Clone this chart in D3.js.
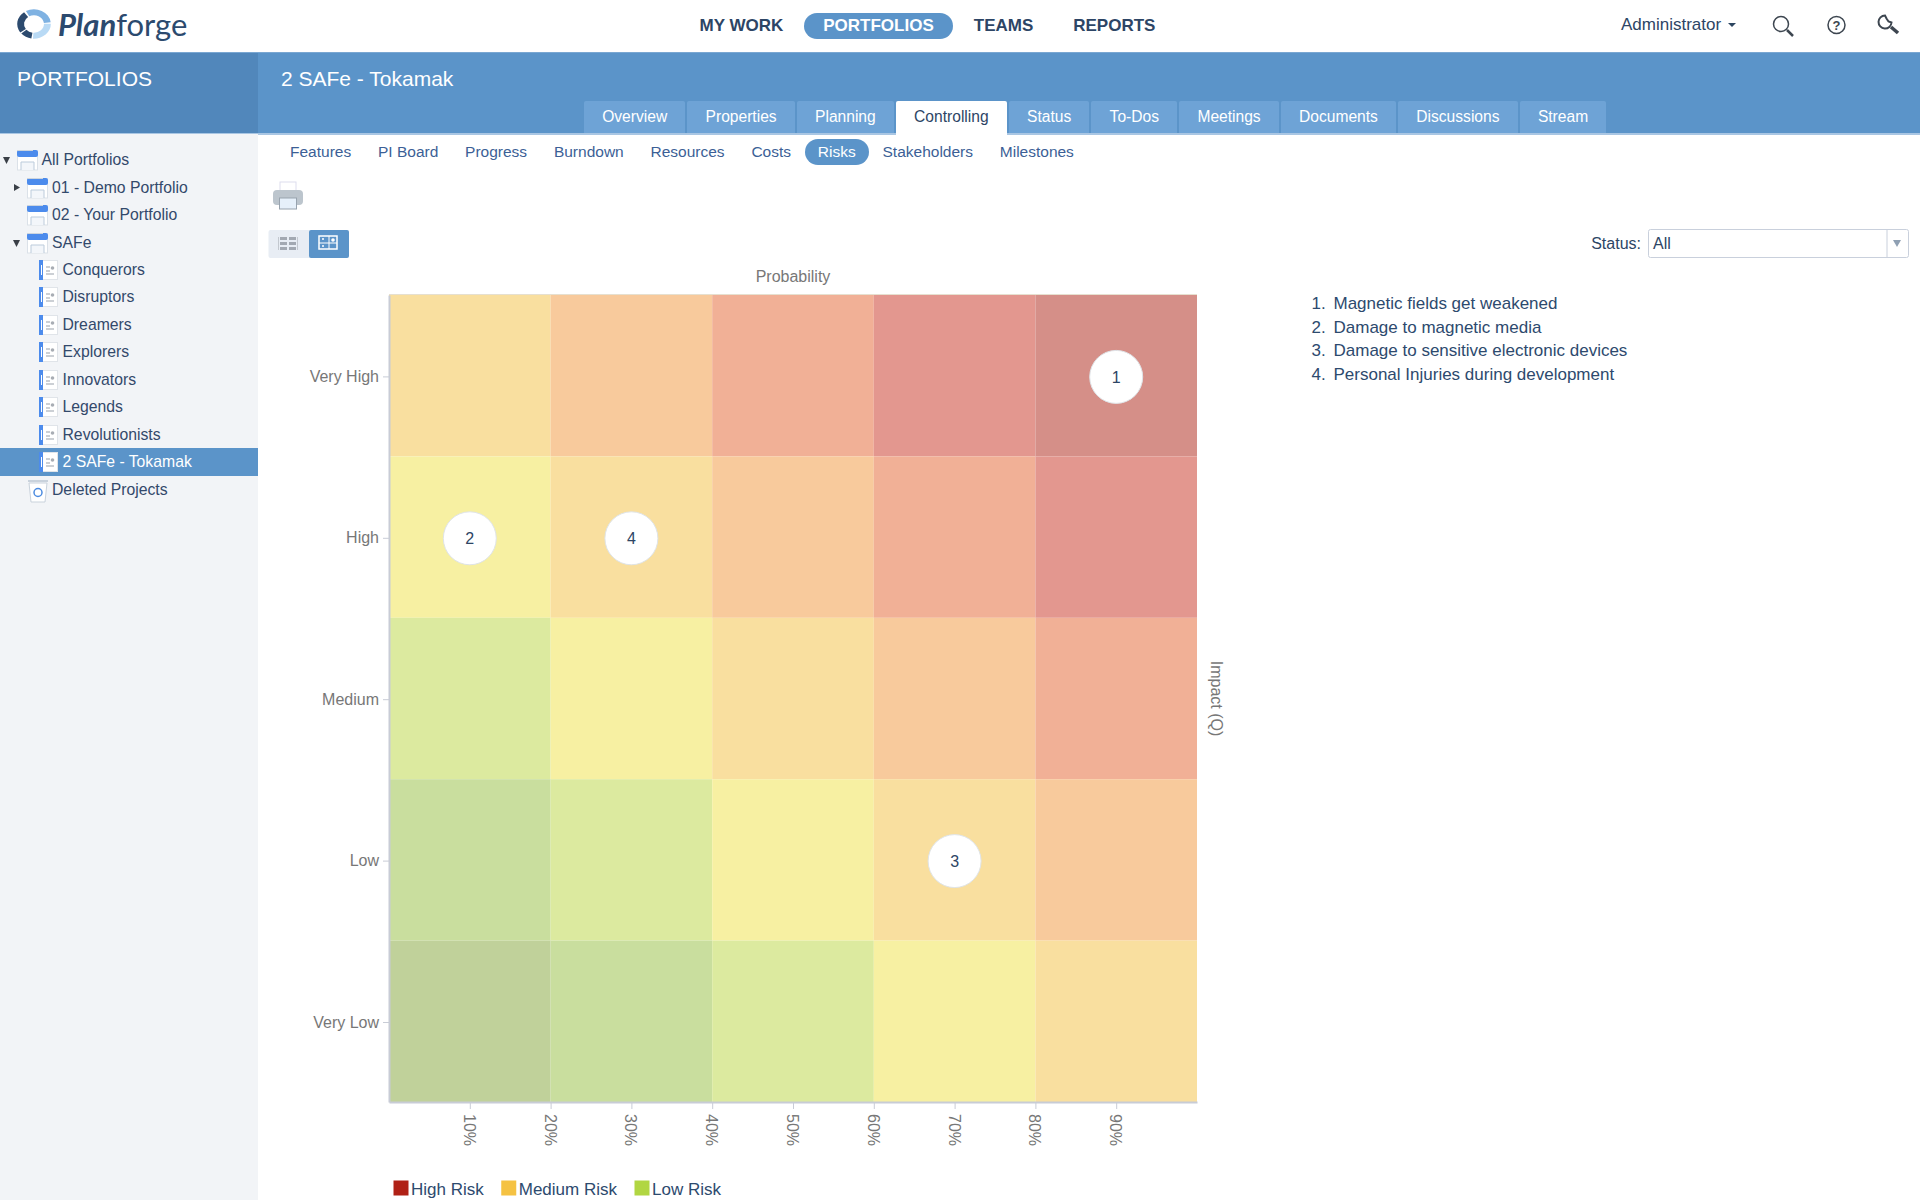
<!DOCTYPE html>
<html lang="en">
<head>
<meta charset="UTF-8">
<title>Planforge - Risks</title>
<script src="https://cdn.jsdelivr.net/npm/d3@7"></script>
<style>
	html, body { margin: 0; padding: 0; background: #fff; }
	body { width: 1920px; height: 1200px; position: relative; overflow: hidden; font-family: "Liberation Sans", Arial, sans-serif; font-size: 16px; color: #2d4565; }
	.abs { position: absolute; }
	.mainnav { position: absolute; top: 12.5px; display: flex; height: 26px; line-height: 26px; font-weight: bold; font-size: 17px; left: 680.5px; }
	.mainnav div { padding: 0 19px; margin-right: 2px; border-radius: 13px; white-space: nowrap; }
	.mainnav .on { background: #5b94c9; color: #fff; }
	.head { position: absolute; top: 52px; height: 81px; background: #5b94c9; border-top: 1px solid #7aa7d2; }
	.tabs { position: absolute; left: 584px; top: 101px; height: 32px; display: flex; font-size: 15.6px; }
	.tabs div { padding: 0 18.2px; line-height: 31px; margin-right: 2px; background: #6ea3d6; color: #fff; border-radius: 2px 2px 0 0; white-space: nowrap; }
	.tabs .on { background: #fff; color: #2d4565; height: 34px; }
	.subtabs { position: absolute; left: 277px; top: 139px; height: 26px; display: flex; color: #3c5f96; font-size: 15.5px; }
	.subtabs div { padding: 0 13px; line-height: 26px; margin-right: 0.8px; border-radius: 13px; white-space: nowrap; }
	.subtabs .on { background: #5b94c9; color: #fff; }
	.sidebar { position: absolute; left: 0; top: 134px; width: 258px; height: 1066px; background: #f2f4f7; font-size: 15.75px; }
	.row { position: absolute; left: 0; width: 258px; height: 27.5px; line-height: 27.5px; white-space: nowrap; color: #33496b; }
	.row.on { background: #5b94c9; color: #fff; }
	.row span { position: absolute; }
	.row svg { position: absolute; top: 0; left: 0; }
	.risks { position: absolute; left: 1311.5px; top: 292px; margin: 0; padding: 0; list-style: none; font-size: 17px; color: #2d4a6e; }
	.risks li { height: 23.5px; line-height: 23.5px; white-space: nowrap; position: relative; padding-left: 22px; }
	.risks b { font-weight: normal; position: absolute; left: 0; }
	svg text { font-family: "Liberation Sans", Arial, sans-serif; }
</style>
</head>
<body>
<script>
	// chart data
	var probabilityTicks = [10, 20, 30, 40, 50, 60, 70, 80, 90];
	var probabilityBands = [0, 20, 40, 60, 80];
	var impactLevels = ['Very High', 'High', 'Medium', 'Low', 'Very Low'];
	var cellLevels = [
		[4, 5, 6, 7, 8],
		[3, 4, 5, 6, 7],
		[2, 3, 4, 5, 6],
		[1, 2, 3, 4, 5],
		[0, 1, 2, 3, 4]
	];
	var riskNames = ['Magnetic fields get weakened', 'Damage to magnetic media', 'Damage to sensitive electronic devices', 'Personal Injuries during development'];
	var riskProbability = [90, 10, 70, 30];
	var riskImpact = ['Very High', 'High', 'Low', 'High'];
	var legendLabels = ['High Risk', 'Medium Risk', 'Low Risk'];

	// page content
	var navItems = ['MY WORK', 'PORTFOLIOS', 'TEAMS', 'REPORTS'];
	var tabItems = ['Overview', 'Properties', 'Planning', 'Controlling', 'Status', 'To-Dos', 'Meetings', 'Documents', 'Discussions', 'Stream'];
	var subTabItems = ['Features', 'PI Board', 'Progress', 'Burndown', 'Resources', 'Costs', 'Risks', 'Stakeholders', 'Milestones'];
	var treeLabels = ['All Portfolios', '01 - Demo Portfolio', '02 - Your Portfolio', 'SAFe', 'Conquerors', 'Disruptors', 'Dreamers', 'Explorers', 'Innovators', 'Legends', 'Revolutionists', '2 SAFe - Tokamak', 'Deleted Projects'];
	var treeDepth = [0, 1, 1, 1, 2, 2, 2, 2, 2, 2, 2, 2, 1];

	var levelColors = ['#c0d19a', '#c9de9e', '#dcea9f', '#f7f0a2', '#f9df9f', '#f8ca9c', '#f1b096', '#e3978f', '#d58f88'];
	var legendColors = ['#b02116', '#f5c242', '#b1d642'];
	var plot = {left: 389, right: 1197, top: 295, bottom: 1102};
	var body = d3.select('body');

	// top bar
	body.append('div').attr('class', 'mainnav')
		.selectAll('div').data(navItems).enter().append('div')
		.attr('class', function (d) { return d === 'PORTFOLIOS' ? 'on' : null; })
		.text(function (d) { return d; });

	body.append('div').attr('class', 'head').style('left', '0px').style('width', '258px').style('background', '#5187bb');
	body.append('div').attr('class', 'head').style('left', '258px').style('width', '1662px');
	body.append('div').attr('class', 'abs').style('left', '0').style('top', '133px').style('width', '1920px').style('height', '2px').style('background', '#a9c6e3');
	body.append('div').attr('class', 'abs').style('left', '17px').style('top', '67px').style('font-size', '21px').style('color', '#fff').text('PORTFOLIOS');
	body.append('div').attr('class', 'abs').style('left', '281px').style('top', '67px').style('font-size', '21px').style('color', '#fff').text('2 SAFe - Tokamak');

	body.append('div').attr('class', 'tabs')
		.selectAll('div').data(tabItems).enter().append('div')
		.attr('class', function (d) { return d === 'Controlling' ? 'on' : null; })
		.text(function (d) { return d; });

	body.append('div').attr('class', 'subtabs')
		.selectAll('div').data(subTabItems).enter().append('div')
		.attr('class', function (d) { return d === 'Risks' ? 'on' : null; })
		.text(function (d) { return d; });

	body.append('div').attr('class', 'abs').style('left', '1621px').style('top', '15px').style('font-size', '17px').text('Administrator');

	// sidebar tree
	var sidebar = body.append('div').attr('class', 'sidebar');
	var rows = sidebar.selectAll('.row').data(treeLabels).enter().append('div')
		.attr('class', function (d) { return d === '2 SAFe - Tokamak' ? 'row on' : 'row'; })
		.style('top', function (d, i) { return (12.2 + i * 27.45) + 'px'; });
	rows.append('span')
		.style('left', function (d, i) { return [41.5, 52, 62.5][treeDepth[i]] + 'px'; })
		.text(function (d) { return d; });

	rows.each(function (d, i) {
		var g = d3.select(this).append('svg').attr('width', 62).attr('height', 28);
		var depth = treeDepth[i];
		if (d === 'Deleted Projects') {
			g.append('path').attr('d', 'M29 7h18l-2 19h-14z').attr('fill', '#fff').attr('stroke', '#c9d2dc');
			g.append('path').attr('d', 'M28 5h20').attr('stroke', '#c9d2dc').attr('stroke-width', 2);
			g.append('circle').attr('cx', 38).attr('cy', 16.5).attr('r', 4).attr('fill', 'none').attr('stroke', '#4c8be0').attr('stroke-width', 1.5);
		} else if (depth === 2) {
			g.append('rect').attr('x', 39.5).attr('y', 4.5).attr('width', 18).attr('height', 19).attr('fill', '#fff').attr('stroke', '#e0e4e9');
			g.append('rect').attr('x', 39).attr('y', 4).attr('width', 4).attr('height', 20).attr('fill', '#4c8bec');
			g.append('rect').attr('x', 41).attr('y', 9).attr('width', 1).attr('height', 10).attr('fill', '#fff');
			g.append('path').attr('d', 'M46 11h4M46 15h4M46 18h8').attr('stroke', '#bcc1c8').attr('stroke-width', 1.5);
			g.append('circle').attr('cx', 52.5).attr('cy', 12).attr('r', 1.8).attr('fill', '#a8adb4');
		} else {
			var x = depth === 0 ? 17 : 27;
			g.append('rect').attr('x', x + 0.5).attr('y', 5).attr('width', 20).attr('height', 19).attr('fill', '#fff').attr('stroke', '#dbe1e8');
			g.append('rect').attr('x', x).attr('y', 4).attr('width', 21).attr('height', 7).attr('rx', 2).attr('fill', '#4c8bec');
			g.append('path').attr('d', 'M' + x + ' 4.5h16').attr('stroke', '#cdd5de');
			g.append('path').attr('d', 'M' + (x + 4) + ' 24v-8h13v8').attr('fill', '#f3f6fa').attr('stroke', '#bccbdb');
		}
		if (d === 'All Portfolios' || d === 'SAFe') {
			var ax = depth === 0 ? 3 : 13;
			g.append('path').attr('d', 'M' + ax + ' 11h7l-3.5 7z').attr('fill', '#3a3f47');
		}
		if (d === '01 - Demo Portfolio') {
			g.append('path').attr('d', 'M14 10v7l6-3.5z').attr('fill', '#3a3f47');
		}
	});

	// full page svg for the chart and the small icons
	var svg = body.append('svg').attr('class', 'abs')
		.style('left', '0').style('top', '0')
		.attr('width', 1920).attr('height', 1200);

	// logo
	var logo = svg.append('g').attr('transform', 'translate(34,24) scale(1.05,0.92)');
	var logoArc = d3.arc().innerRadius(9.5).outerRadius(16);
	var logoStarts = [-0.5, 1.55, 3.3, 4.1];
	var logoEnds = [1.45, 3.2, 4.0, 5.65];
	var logoFills = ['#7fb2e2', '#b9daf5', '#2c4a6e', '#2c4a6e'];
	logo.selectAll('path').data(logoStarts).enter().append('path')
		.attr('d', function (d, i) { return logoArc({startAngle: d, endAngle: logoEnds[i]}); })
		.attr('fill', function (d, i) { return logoFills[i]; });
	var logoText = svg.append('text').attr('x', 58).attr('y', 36)
		.style('font-family', 'Lato').style('font-size', '31px').style('font-style', 'italic').attr('fill', '#2c4a6e');
	logoText.append('tspan').style('font-weight', 700).text('Plan');
	logoText.append('tspan').style('font-weight', 400).style('font-style', 'normal').text('forge');

	// header icons
	var icons = svg.append('g').attr('fill', 'none').attr('stroke', '#3d4650').attr('stroke-width', 1.5);
	svg.append('path').attr('d', 'M1728 23h8l-4 4z').attr('fill', '#2c4560');
	icons.append('circle').attr('cx', 1781).attr('cy', 24).attr('r', 7.5);
	icons.append('path').attr('d', 'M1787 30l6 6').attr('stroke-width', 2.5);
	icons.append('circle').attr('cx', 1836.5).attr('cy', 25).attr('r', 8.5);
	svg.append('text').attr('x', 1836.5).attr('y', 30).attr('text-anchor', 'middle').style('font-size', '13px').style('font-weight', 'bold').attr('fill', '#3d4650').text('?');
	icons.append('path').attr('d', 'M1885 15.5a6.5 6.5 0 1 0 6.5 7l-3-1-2-3z').attr('stroke-width', 2);
	icons.append('path').attr('d', 'M1891 27l7 6').attr('stroke-width', 3.5);

	// printer
	var printer = svg.append('g');
	printer.append('rect').attr('x', 280).attr('y', 182).attr('width', 16).attr('height', 11).attr('fill', '#fff').attr('stroke', '#dde');
	printer.append('rect').attr('x', 273).attr('y', 190).attr('width', 30).attr('height', 15).attr('rx', 4).attr('fill', '#bcc5cd');
	printer.append('rect').attr('x', 279.5).attr('y', 198).attr('width', 17).attr('height', 11).attr('fill', '#e6f0fa').attr('stroke', '#98a3ae');

	// list/matrix toggle
	svg.append('rect').attr('x', 268.5).attr('y', 230).attr('width', 80).attr('height', 28).attr('rx', 2).attr('fill', '#e8edf4');
	svg.append('rect').attr('x', 309).attr('y', 230).attr('width', 40).attr('height', 28).attr('rx', 2).attr('fill', '#5b94c9');
	var listIcon = svg.append('g').attr('fill', '#a3a9b2');
	[0, 1, 2].forEach(function (r) {
		listIcon.append('rect').attr('x', 280).attr('y', 237 + r * 5).attr('width', 7).attr('height', 3);
		listIcon.append('rect').attr('x', 289).attr('y', 237 + r * 5).attr('width', 7).attr('height', 3);
	});
	svg.append('path').attr('d', 'M278.5 237v13M297.5 237v13').attr('stroke', '#c3c8cf');
	svg.append('rect').attr('x', 319).attr('y', 236).attr('width', 18).attr('height', 13).attr('fill', 'none').attr('stroke', '#fff').attr('stroke-width', 1.5);
	svg.append('path').attr('d', 'M329 236v13M319 243h18').attr('stroke', '#fff');
	svg.append('circle').attr('cx', 333).attr('cy', 240).attr('r', 1.8).attr('fill', '#fff');
	svg.append('circle').attr('cx', 323).attr('cy', 239).attr('r', 1).attr('fill', '#fff');
	svg.append('circle').attr('cx', 323).attr('cy', 246).attr('r', 1).attr('fill', '#fff');

	// status filter
	svg.append('text').attr('x', 1641).attr('y', 249).attr('text-anchor', 'end').style('font-size', '16px').attr('fill', '#2d4565').text('Status:');
	svg.append('rect').attr('x', 1648.5).attr('y', 229.5).attr('width', 260).attr('height', 28).attr('rx', 2).attr('fill', '#fff').attr('stroke', '#c9d0dc');
	svg.append('path').attr('d', 'M1887 230v28').attr('stroke', '#c9d0dc');
	svg.append('path').attr('d', 'M1893 240h8l-4 7z').attr('fill', '#8fa0b3');
	svg.append('text').attr('x', 1653).attr('y', 249).style('font-size', '16px').attr('fill', '#2d4565').text('All');

	// scales
	var x = d3.scaleLinear().domain([0, 100]).range([plot.left, plot.right]);
	var y = d3.scaleBand().domain(impactLevels).range([plot.top, plot.bottom]);
	var bandShift = 1.2; // ticks and markers sit a bit below the band centre in the original

	// cells
	impactLevels.forEach(function (impact, r) {
		svg.append('g').selectAll('rect').data(probabilityBands).enter().append('rect')
			.attr('x', function (d) { return x(d); })
			.attr('y', y(impact))
			.attr('width', function (d) { return x(d + 20) - x(d); })
			.attr('height', y.bandwidth())
			.attr('fill', function (d, c) { return levelColors[cellLevels[r][c]]; });
	});

	// axes
	var xAxis = svg.append('g').attr('transform', 'translate(0,' + plot.bottom + ')')
		.call(d3.axisBottom(x).tickValues(probabilityTicks).tickFormat(function (d) { return d + '%'; }).tickSize(7).tickSizeOuter(0));
	xAxis.selectAll('text')
		.attr('transform', 'rotate(90)')
		.attr('x', 12).attr('y', 0).attr('dy', '0.4em')
		.attr('text-anchor', 'start');
	var yAxis = svg.append('g').attr('transform', 'translate(' + plot.left + ',' + bandShift + ')')
		.call(d3.axisLeft(y).tickSize(6).tickPadding(4).tickSizeOuter(0));
	yAxis.select('.domain').attr('transform', 'translate(0,' + (-bandShift) + ')');
	svg.selectAll('.tick line').attr('stroke', '#c8ccd6');
	svg.selectAll('.domain').attr('stroke', '#c8ccd6').attr('stroke-width', 2);
	svg.selectAll('.tick text').attr('fill', '#777').style('font-size', '16px').style('font-family', '"Liberation Sans"');

	svg.append('path').attr('d', 'M' + plot.left + ' ' + (plot.top - 0.5) + 'H' + plot.right).attr('stroke', '#e6e0d0');

	svg.append('text').attr('x', (plot.left + plot.right) / 2).attr('y', 282)
		.attr('text-anchor', 'middle').style('font-size', '16px').attr('fill', '#777').text('Probability');
	svg.append('text').attr('text-anchor', 'middle').style('font-size', '16px').attr('fill', '#777')
		.attr('transform', 'translate(1210.5,' + (plot.top + plot.bottom) / 2 + ') rotate(90)').text('Impact (Q)');

	// risk markers
	var markers = svg.append('g').selectAll('g').data(riskNames).enter().append('g')
		.attr('transform', function (d, i) {
			return 'translate(' + x(riskProbability[i]) + ',' + (y(riskImpact[i]) + y.bandwidth() / 2 + bandShift) + ')';
		});
	markers.append('circle').attr('r', 26.5).attr('fill', '#fff').attr('stroke', '#dfe4e8');
	markers.append('text').attr('text-anchor', 'middle').attr('dy', '0.36em')
		.style('font-size', '16px').attr('fill', '#2d4565')
		.text(function (d, i) { return i + 1; });

	// legend
	var legendX = 393.5;
	legendLabels.forEach(function (label, i) {
		svg.append('rect').attr('x', legendX).attr('y', 1180.5).attr('width', 15).attr('height', 15).attr('fill', legendColors[i]);
		var t = svg.append('text').attr('x', legendX + 17.5).attr('y', 1195).style('font-size', '17px').attr('fill', '#2d4a6e').text(label);
		legendX += 17.5 + t.node().getComputedTextLength() + 17.5;
	});

	// risk list
	var items = body.append('ul').attr('class', 'risks')
		.selectAll('li').data(riskNames).enter().append('li');
	items.append('b').text(function (d, i) { return (i + 1) + '.'; });
	items.append('span').text(function (d) { return d; });
</script>
</body>
</html>
